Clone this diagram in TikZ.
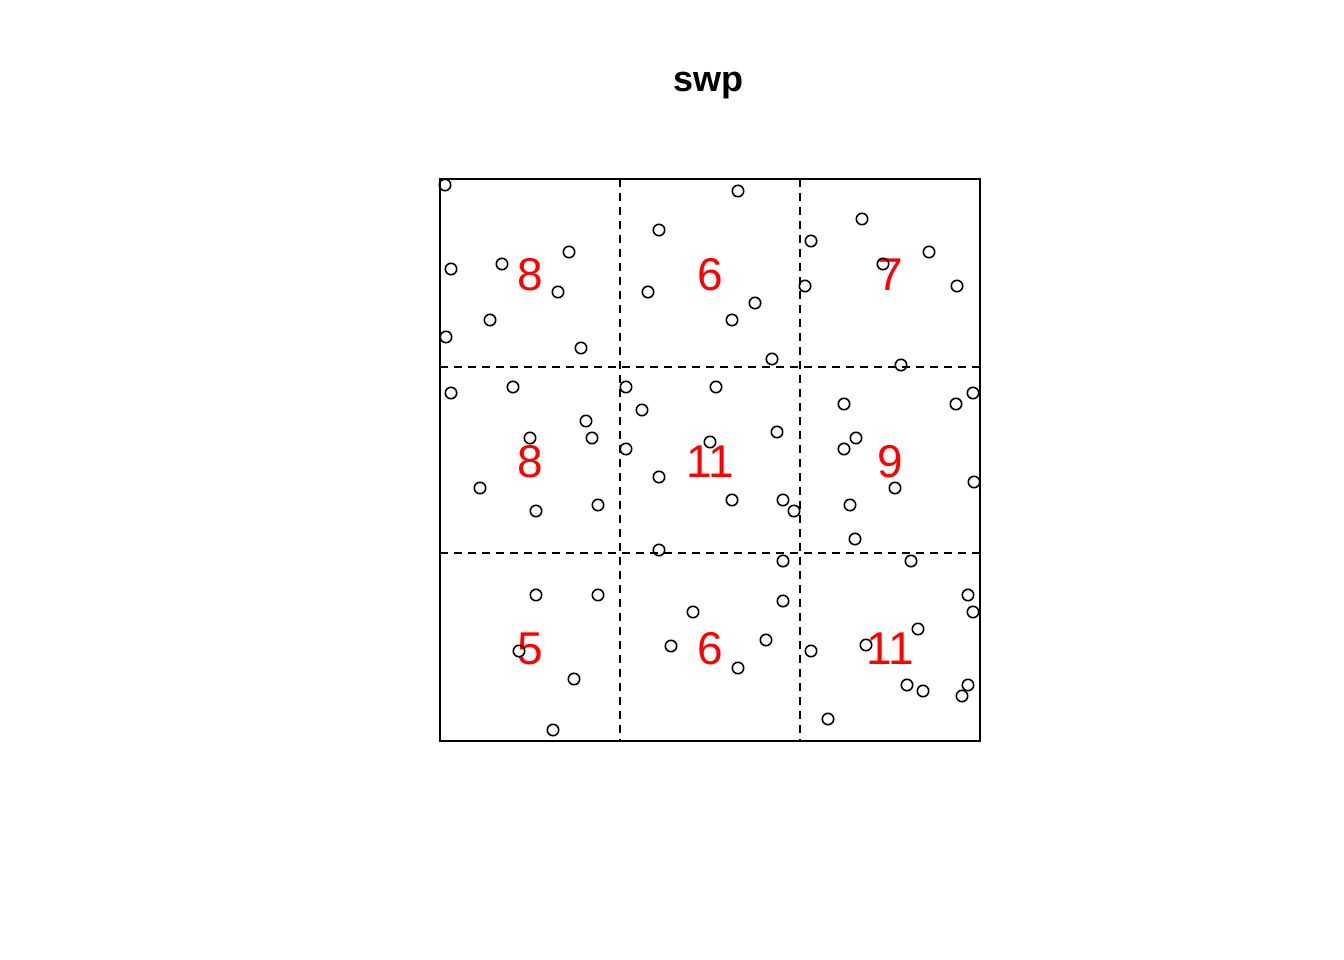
\documentclass[tikz,border=0pt]{standalone}
\usepackage{fontspec}
\setmainfont{Liberation Sans}
\begin{document}
\begin{tikzpicture}[x=1pt,y=-1pt,
  pt/.style={draw=black,line width=1.6pt,fill=none},
  grid/.style={draw=black,line width=1.5pt,dash pattern=on 8pt off 6pt},
  frame/.style={draw=black,line width=1.7pt},
  cnt/.style={text=red,font=\fontsize{46}{46}\selectfont,anchor=base,inner sep=0pt},
  ttl/.style={font=\fontsize{36}{36}\selectfont\bfseries,anchor=base,inner sep=0pt}]
\useasboundingbox (0,0) rectangle (1344,960);
\fill[white] (0,0) rectangle (1344,960);
\node[ttl] (title) at (708,92) {swp};
% grid lines
\coordinate (v1t) at (620,179); \coordinate (v1b) at (620,741);
\coordinate (v2t) at (800,179); \coordinate (v2b) at (800,741);
\coordinate (h1l) at (440,367); \coordinate (h1r) at (980,367);
\coordinate (h2l) at (440,553); \coordinate (h2r) at (980,553);
\draw[grid] (v1t) -- (v1b);
\draw[grid] (v2t) -- (v2b);
\draw[grid] (h1l) -- (h1r);
\draw[grid] (h2l) -- (h2r);
\draw[frame] (440,179) rectangle (980,741);
% counts
\node[cnt] (c11) at (530,290) {8};
\node[cnt] (c12) at (710,290) {6};
\node[cnt] (c13) at (890,290) {7};
\node[cnt] (c21) at (530,477) {8};
\node[cnt] (c22) at (710,477) {11};
\node[cnt] (c23) at (890,477) {9};
\node[cnt] (c31) at (530,664) {5};
\node[cnt] (c32) at (710,664) {6};
\node[cnt] (c33) at (890,664) {11};
% points
\foreach \px/\py in {
 445/185, 451/269, 502/264, 569/252, 558/292, 490/320, 446/337, 581/348,
 738/191, 755/303, 732/320, 772/359, 659/230, 648/292,
 811/241, 862/219, 883/264, 929/252, 957/286, 805/286, 901/365,
 451/393, 513/387, 586/421, 592/438, 530/438, 480/488, 536/511, 598/505,
 626/387, 642/410, 626/449, 716/387, 777/432, 710/442, 659/477, 659/550, 732/500, 783/500, 794/511,
 973/393, 956/404, 844/404, 856/438, 844/449, 895/488, 974/482, 850/505, 855/539,
 536/595, 598/595, 519/651, 574/679, 553/730,
 783/561, 783/601, 766/640, 738/668, 693/612, 671/646,
 911/561, 968/595, 973/612, 918/629, 811/651, 866/645, 907/685, 923/691, 968/685, 962/696, 828/719}
 \draw[pt] (\px,\py) circle (5.7);
\end{tikzpicture}
\end{document}
